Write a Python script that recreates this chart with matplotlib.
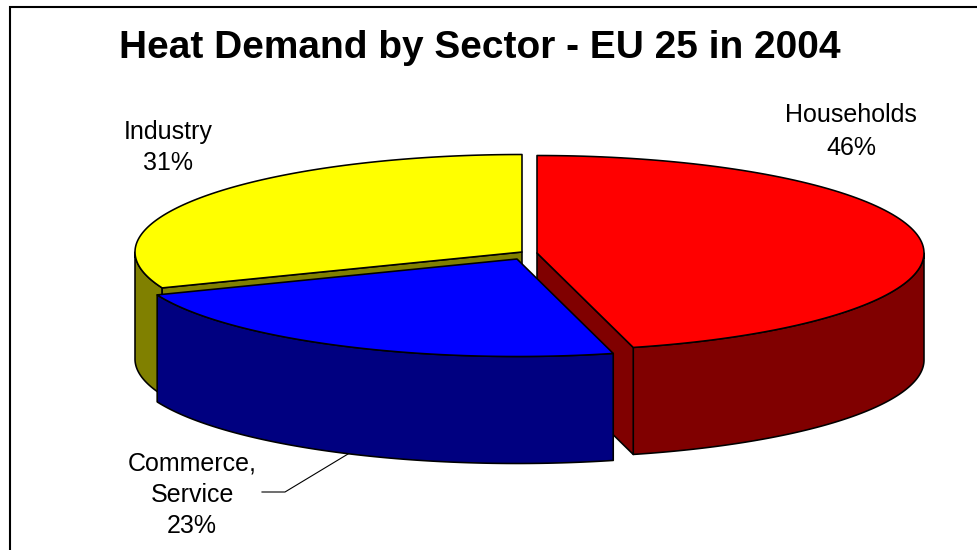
import numpy as np
import matplotlib
matplotlib.use("Agg")
import matplotlib.pyplot as plt
from matplotlib.patches import Polygon
from matplotlib.lines import Line2D

# Heat demand shares, EU 25, 2004 (clockwise from 12 o'clock)
sectors = ["Households", "Commerce,\nService", "Industry"]
shares = [46, 23, 31]

top_colors = ["#FF0000", "#0000FF", "#FFFF00"]
side_colors = ["#800000", "#000080", "#808000"]

# Pie geometry in pixel units
A, B, DEPTH = 387.0, 97.5, 107.0
BASE = (522.0, 252.0)
# per-slice displacement of the exploded wedges
SHIFT = [(15.0, 1.0), (-5.0, 7.0), (0.0, 0.0)]

W, H = 978, 550
fig = plt.figure(figsize=(W / 100, H / 100), dpi=100)
ax = fig.add_axes([0, 0, 1, 1])
ax.set_xlim(0, W)
ax.set_ylim(H, 0)
ax.axis("off")

FONT = "Liberation Sans"
EDGE = dict(edgecolor="black", linewidth=1.15, joinstyle="round")


def rim(cx, cy, th, dz=0.0):
    return cx + A * np.sin(th), cy - B * np.cos(th) + dz


def arc(cx, cy, t0, t1, dz=0.0, n=120):
    th = np.linspace(t0, t1, n)
    return np.column_stack([cx + A * np.sin(th), cy - B * np.cos(th) + dz])


total = float(sum(shares))
bounds = np.concatenate([[0.0], np.cumsum(shares)]) / total * 2 * np.pi
slices = []
for i in range(len(shares)):
    cx, cy = BASE[0] + SHIFT[i][0], BASE[1] + SHIFT[i][1]
    slices.append((i, bounds[i], bounds[i + 1], cx, cy))

# back-to-front drawing order: Industry, Households, Commerce
for i, t0, t1, cx, cy in [slices[2], slices[0], slices[1]]:
    # outer wall, only the front half of the cylinder is visible
    lo, hi = max(t0, np.pi / 2), min(t1, 3 * np.pi / 2)
    if hi > lo:
        top = arc(cx, cy, lo, hi)
        bot = arc(cx, cy, lo, hi, DEPTH)[::-1]
        ax.add_patch(Polygon(np.vstack([top, bot]), closed=True,
                             facecolor=side_colors[i], **EDGE))
    # radial cut faces turned toward the viewer
    for t, visible in ((t0, np.sin(t0) < -1e-9), (t1, np.sin(t1) > 1e-9)):
        if visible:
            x, y = rim(cx, cy, t)
            quad = [(cx, cy), (x, y), (x, y + DEPTH), (cx, cy + DEPTH)]
            ax.add_patch(Polygon(quad, closed=True,
                                 facecolor=side_colors[i], **EDGE))
    # top face
    pts = np.vstack([[cx, cy], arc(cx, cy, t0, t1)])
    ax.add_patch(Polygon(pts, closed=True, facecolor=top_colors[i], **EDGE))

# title
ax.text(480, 58, "Heat Demand by Sector - EU 25 in 2004", fontsize=28,
        fontweight="bold", family=FONT, ha="center", va="baseline")

# data labels (category + percentage)
label_pos = [(851, [122, 155]), (192, [470, 502, 533]), (168, [139, 170])]
for i, (x, baselines) in enumerate(label_pos):
    lines = sectors[i].split("\n") + [f"{shares[i] / total * 100:.0f}%"]
    for line, yb in zip(lines, baselines):
        ax.text(x, yb, line, fontsize=18, family=FONT, ha="center",
                va="baseline", color="black")

# leader line for the Commerce, Service label
ax.add_line(Line2D([262, 285, 348], [492, 492, 454], color="black",
                   linewidth=0.8))

# frame (top and left edges of the chart area)
ax.add_line(Line2D([9.5, 9.5, W], [H, 6.5, 6.5], color="black",
                   linewidth=1.5, solid_joinstyle="miter"))

fig.savefig("out.png", dpi=100)
